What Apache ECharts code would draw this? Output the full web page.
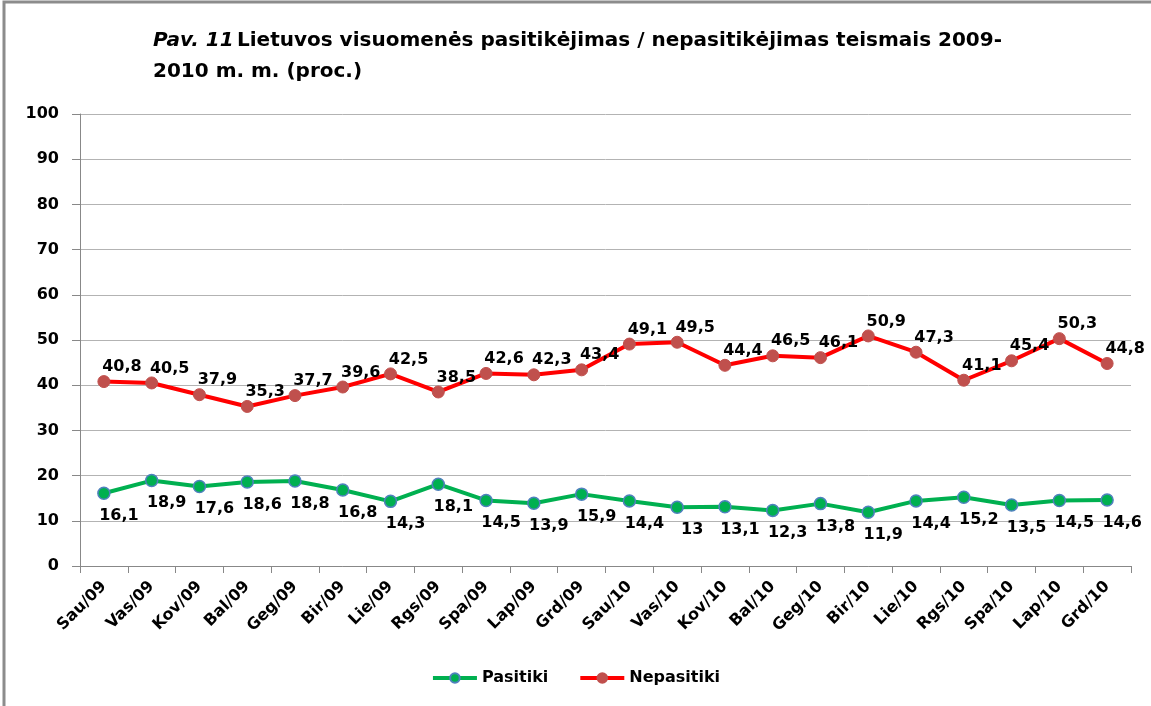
<!DOCTYPE html>
<html><head><meta charset="utf-8">
<script src="https://cdn.jsdelivr.net/npm/echarts@6/dist/echarts.min.js"></script>
<style>html,body{margin:0;padding:0;background:#fff}#c{width:1151px;height:706px}</style>
</head><body><div id="c"></div>
<script>
const categories = ["Sau/09","Vas/09","Kov/09","Bal/09","Geg/09","Bir/09","Lie/09","Rgs/09","Spa/09","Lap/09","Grd/09","Sau/10","Vas/10","Kov/10","Bal/10","Geg/10","Bir/10","Lie/10","Rgs/10","Spa/10","Lap/10","Grd/10"];
const pasitiki = [16.1,18.9,17.6,18.6,18.8,16.8,14.3,18.1,14.5,13.9,15.9,14.4,13,13.1,12.3,13.8,11.9,14.4,15.2,13.5,14.5,14.6];
const nepasitiki = [40.8,40.5,37.9,35.3,37.7,39.6,42.5,38.5,42.6,42.3,43.4,49.1,49.5,44.4,46.5,46.1,50.9,47.3,41.1,45.4,50.3,44.8];
const yTicks = [0,10,20,30,40,50,60,70,80,90,100];

const F = 'DejaVu Sans';
const fmt = p => String(p.value).replace('.', ',');
const chart = echarts.init(document.getElementById('c'));
chart.setOption({
  animation: false,
  backgroundColor: '#fff',
  graphic: [{type:'rect', shape:{x:4,y:2,width:1300,height:900}, style:{fill:'none', stroke:'#8c8c8c', lineWidth:3}, silent:true},
    {type:'text', left:153, top:31, style:{rich:{i:{fontStyle:'italic', fontFamily:F, fontWeight:'bold', fontSize:20, fill:'#000', lineHeight:31}, n:{fontFamily:F, fontWeight:'bold', fontSize:20, fill:'#000', lineHeight:31}}, text:'{i|Pav. 11} {n|Lietuvos visuomenės pasitikėjimas / nepasitikėjimas teismais 2009-}\n{n|2010 m. m. (proc.)}'}}],
  grid: {left:80, right:20, top:114, bottom:140, containLabel:false},
  legend: {bottom:15, left:'center', itemWidth:44, itemHeight:12, itemGap:30,
    lineStyle:{width:4},
    textStyle:{fontFamily:F, fontWeight:'bold', fontSize:16, color:'#000'},
    data:['Pasitiki','Nepasitiki']},
  xAxis: {type:'category', data:categories, boundaryGap:true,
    axisLine:{lineStyle:{color:'#888', width:1}},
    axisTick:{show:true, length:7, lineStyle:{color:'#888'}},
    axisLabel:{rotate:45, interval:0, fontFamily:F, fontWeight:'bold', fontSize:16, color:'#000', margin:18}},
  yAxis: {type:'value', min:0, max:100, interval:10,
    axisLine:{show:true, lineStyle:{color:'#888'}},
    axisTick:{show:true, length:8, lineStyle:{color:'#888'}},
    splitLine:{lineStyle:{color:'#b3b3b3', width:1}},
    axisLabel:{fontFamily:F, fontWeight:'bold', fontSize:16, color:'#000', margin:21}},
  series: [
    {name:'Pasitiki', type:'line', data:pasitiki, symbol:'circle', symbolSize:12,
     lineStyle:{color:'#00b050', width:4}, itemStyle:{color:'#00b050', borderColor:'#4f81bd', borderWidth:1.5},
     label:{show:true, position:'bottom', offset:[15,3], formatter:fmt, fontFamily:F, fontWeight:'bold', fontSize:16, color:'#000'}},
    {name:'Nepasitiki', type:'line', data:nepasitiki, symbol:'circle', symbolSize:12,
     lineStyle:{color:'#ff0000', width:4}, itemStyle:{color:'#c0504d', borderColor:'#c0504d', borderWidth:1},
     label:{show:true, position:'top', offset:[18,5], formatter:fmt, fontFamily:F, fontWeight:'bold', fontSize:16, color:'#000'}}
  ]
});
</script></body></html>
